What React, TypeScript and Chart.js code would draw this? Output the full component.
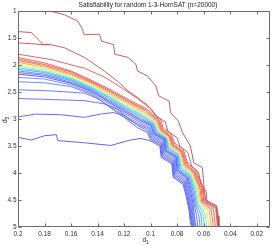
import { useEffect, useRef } from 'react';
import { Chart, registerables } from 'chart.js';

Chart.register(...registerables);

const titleText = 'Satisfiability for random 1-3-HornSAT (n=20000)';
const xTicks = [0.2, 0.18, 0.16, 0.14, 0.12, 0.1, 0.08, 0.06, 0.04, 0.02];
const xTickLabels = ['0.2', '0.18', '0.16', '0.14', '0.12', '0.1', '0.08', '0.06', '0.04', '0.02'];
const yTicks = [1, 1.5, 2, 2.5, 3, 3.5, 4, 4.5, 5];
const yTickLabels = ['1', '1.5', '2', '2.5', '3', '3.5', '4', '4.5', '5'];

type Pt = [number, number];

// transition band contours (blue side -> red side), [d1, d3]
const bandW00: Pt[] = [[0.2,2.17],[0.18,2.22],[0.16,2.34],[0.145,2.49],[0.132,2.68],[0.12,2.86],[0.108,3.03],[0.1,3.12],[0.0975,3.28],[0.09,3.38],[0.089,3.59],[0.081,3.71],[0.08,3.96],[0.0725,4.09],[0.07,4.33],[0.068,4.58],[0.067,4.8],[0.066,5]];
const bandW10: Pt[] = [[0.2,2.14],[0.18,2.19],[0.16,2.32],[0.145,2.47],[0.1318,2.66],[0.1196,2.84],[0.1075,3.01],[0.0994,3.11],[0.0969,3.27],[0.0895,3.37],[0.0884,3.58],[0.0805,3.70],[0.0793,3.95],[0.0719,4.08],[0.0691,4.33],[0.0672,4.57],[0.0654,4.79],[0.0644,5]];
const bandW20: Pt[] = [[0.2,2.11],[0.18,2.17],[0.16,2.29],[0.145,2.45],[0.1316,2.64],[0.1192,2.82],[0.107,2.99],[0.0987,3.10],[0.0962,3.26],[0.089,3.37],[0.0877,3.57],[0.08,3.69],[0.0785,3.94],[0.0713,4.07],[0.0682,4.32],[0.0664,4.57],[0.0638,4.77],[0.0627,5]];
const bandW30: Pt[] = [[0.2,2.08],[0.18,2.14],[0.16,2.27],[0.145,2.43],[0.1314,2.61],[0.1188,2.80],[0.1065,2.96],[0.098,3.09],[0.0956,3.25],[0.0885,3.36],[0.087,3.55],[0.0795,3.67],[0.0778,3.92],[0.0707,4.05],[0.0673,4.32],[0.0656,4.56],[0.0622,4.76],[0.0611,5]];
const bandW40: Pt[] = [[0.2,2.05],[0.18,2.12],[0.16,2.25],[0.145,2.41],[0.1312,2.59],[0.1184,2.78],[0.106,2.94],[0.0974,3.08],[0.0949,3.24],[0.088,3.35],[0.0864,3.54],[0.079,3.66],[0.077,3.91],[0.0701,4.04],[0.0664,4.31],[0.0648,4.56],[0.0606,4.74],[0.0594,5]];
const bandW50: Pt[] = [[0.2,2.02],[0.18,2.09],[0.16,2.23],[0.145,2.39],[0.131,2.57],[0.118,2.76],[0.1055,2.92],[0.0968,3.07],[0.0943,3.24],[0.0875,3.35],[0.0858,3.53],[0.0785,3.65],[0.0763,3.90],[0.0695,4.03],[0.0655,4.31],[0.064,4.55],[0.059,4.73],[0.0578,5]];
const bandW60: Pt[] = [[0.2,1.98],[0.18,2.06],[0.16,2.20],[0.145,2.36],[0.1308,2.55],[0.1176,2.73],[0.105,2.90],[0.0961,3.06],[0.0936,3.23],[0.087,3.34],[0.0851,3.52],[0.078,3.64],[0.0755,3.89],[0.0689,4.02],[0.0646,4.30],[0.0632,4.54],[0.0574,4.72],[0.0561,5]];
const bandW70: Pt[] = [[0.2,1.95],[0.18,2.04],[0.16,2.18],[0.145,2.34],[0.1306,2.53],[0.1172,2.71],[0.1045,2.88],[0.0955,3.05],[0.093,3.22],[0.0865,3.33],[0.0845,3.51],[0.0775,3.63],[0.0748,3.88],[0.0683,4.01],[0.0637,4.30],[0.0624,4.54],[0.0558,4.70],[0.0545,5]];
const bandW80: Pt[] = [[0.2,1.92],[0.18,2.01],[0.16,2.16],[0.145,2.32],[0.1304,2.50],[0.1168,2.69],[0.104,2.85],[0.0948,3.04],[0.0923,3.21],[0.086,3.32],[0.0838,3.49],[0.077,3.61],[0.074,3.86],[0.0677,3.99],[0.0628,4.29],[0.0616,4.53],[0.0542,4.69],[0.0528,5]];
const bandW90: Pt[] = [[0.2,1.89],[0.18,1.99],[0.16,2.13],[0.145,2.30],[0.1302,2.48],[0.1164,2.67],[0.1035,2.83],[0.0942,3.03],[0.0917,3.20],[0.0855,3.32],[0.0832,3.48],[0.0765,3.60],[0.0733,3.85],[0.0671,3.98],[0.0619,4.29],[0.0608,4.53],[0.0526,4.67],[0.0512,5]];
const bandW100: Pt[] = [[0.2,1.86],[0.18,1.96],[0.16,2.11],[0.145,2.28],[0.13,2.46],[0.116,2.65],[0.103,2.81],[0.0935,3.02],[0.091,3.19],[0.085,3.31],[0.0825,3.47],[0.076,3.59],[0.0725,3.84],[0.0665,3.97],[0.061,4.28],[0.06,4.52],[0.051,4.66],[0.0495,5]];

// outer high-level (red) contours
const redT1: Pt[] = [[0.176,1.0],[0.165,1.07],[0.155,1.185],[0.152,1.31],[0.15,1.44],[0.1385,1.43],[0.137,1.56],[0.128,1.62],[0.127,1.8],[0.117,1.86],[0.111,1.99],[0.11,2.11],[0.1025,2.2],[0.096,2.39],[0.094,2.57],[0.086,2.67],[0.085,2.88],[0.079,3.04],[0.076,3.25],[0.07,3.5],[0.0675,3.81],[0.061,3.9],[0.0595,4.33],[0.0585,4.5],[0.0505,4.6],[0.049,4.8],[0.0485,5]];
const redT2: Pt[] = [[0.2,1.38],[0.19,1.4],[0.181,1.62],[0.176,1.62],[0.165,1.68],[0.15,1.86],[0.135,2.11],[0.125,2.3],[0.117,2.48],[0.11,2.6],[0.103,2.73],[0.099,2.83],[0.095,2.97],[0.089,3.05],[0.087,3.22],[0.08,3.35],[0.078,3.5],[0.072,3.62],[0.069,3.88],[0.064,3.98],[0.062,4.2],[0.058,4.35],[0.0575,4.55],[0.05,4.65],[0.0495,5]];
const redT3: Pt[] = [[0.2,1.59],[0.19,1.605],[0.181,1.625],[0.176,1.625]];
const redLa: Pt[] = [[0.2,1.8],[0.175,1.9],[0.15,2.06],[0.135,2.22],[0.122,2.42],[0.11,2.62],[0.101,2.79],[0.0965,2.93],[0.0925,3.0],[0.0905,3.17],[0.0845,3.28],[0.082,3.44],[0.0755,3.56],[0.072,3.82],[0.066,3.94],[0.0605,4.26],[0.0595,4.5],[0.0505,4.62],[0.049,5]];

// outer low-level (blue) contours
const blueL1: Pt[] = [[0.2,2.23],[0.18,2.26],[0.16,2.37],[0.145,2.52],[0.132,2.71],[0.12,2.89],[0.108,3.06],[0.1005,3.15],[0.098,3.3],[0.0905,3.4],[0.0895,3.61],[0.0815,3.73],[0.0805,3.98],[0.073,4.11],[0.0705,4.35],[0.0685,4.6],[0.0675,4.82],[0.0665,5]];
const blueL2: Pt[] = [[0.2,2.31],[0.18,2.33],[0.16,2.4],[0.145,2.54],[0.133,2.74],[0.121,2.92],[0.109,3.08],[0.101,3.17],[0.0985,3.32],[0.091,3.42],[0.09,3.63],[0.082,3.75],[0.081,4.0],[0.0735,4.13],[0.071,4.37],[0.069,4.62],[0.068,4.84],[0.067,5]];
const blueL3: Pt[] = [[0.2,2.46],[0.175,2.48],[0.15,2.52],[0.14,2.62],[0.132,2.76],[0.122,2.94],[0.11,3.1],[0.1015,3.19],[0.099,3.34],[0.0915,3.44],[0.0905,3.65],[0.0825,3.77],[0.0815,4.02],[0.074,4.15],[0.0715,4.39],[0.0695,4.64],[0.0685,4.86],[0.0675,5]];
const blueL4: Pt[] = [[0.2,2.62],[0.175,2.64],[0.15,2.66],[0.135,2.72],[0.125,2.82],[0.117,2.98],[0.109,3.13],[0.102,3.22],[0.0995,3.36],[0.092,3.46],[0.091,3.67],[0.083,3.79],[0.082,4.04],[0.0745,4.17],[0.072,4.41],[0.07,4.66],[0.069,4.88],[0.068,5]];
const blueL5: Pt[] = [[0.2,2.96],[0.187,2.91],[0.168,2.92],[0.15,2.97],[0.138,2.91],[0.128,2.88],[0.121,2.93],[0.118,3.01],[0.11,3.16],[0.1025,3.25],[0.1,3.38],[0.0925,3.48],[0.0915,3.69],[0.0835,3.81],[0.0825,4.06],[0.075,4.19],[0.0725,4.43],[0.0705,4.68],[0.0695,4.9],[0.0685,5]];
const blueL6: Pt[] = [[0.2,3.34],[0.19,3.39],[0.18,3.31],[0.171,3.29],[0.17,3.4],[0.15,3.44],[0.13,3.49],[0.117,3.4],[0.108,3.36],[0.1005,3.4],[0.093,3.5],[0.092,3.71],[0.084,3.83],[0.083,4.08],[0.0755,4.21],[0.073,4.45],[0.071,4.7],[0.07,4.92],[0.069,5]];

const contourLines: { pts: Pt[]; color: string }[] = [
  { pts: blueL6, color: '#4848e8' },
  { pts: blueL5, color: '#4a52ee' },
  { pts: blueL4, color: '#5060f2' },
  { pts: blueL3, color: '#5468f6' },
  { pts: blueL2, color: '#5a72fa' },
  { pts: blueL1, color: '#5c7cff' },
  { pts: bandW00, color: '#4040ff' },
  { pts: bandW10, color: '#4a60ff' },
  { pts: bandW20, color: '#4a7cff' },
  { pts: bandW30, color: '#4898ff' },
  { pts: bandW40, color: '#38ccff' },
  { pts: bandW50, color: '#60ffb0' },
  { pts: bandW60, color: '#e4f030' },
  { pts: bandW70, color: '#ffa020' },
  { pts: bandW80, color: '#ff5a30' },
  { pts: bandW90, color: '#f24444' },
  { pts: bandW100, color: '#e45050' },
  { pts: redLa, color: '#de4a4a' },
  { pts: redT3, color: '#c84646' },
  { pts: redT2, color: '#c04848' },
  { pts: redT1, color: '#b04545' },
];

const FONT = '"Liberation Sans", Arial, sans-serif';

const decor = {
  id: 'decor',
  afterDraw(chart: any) {
    const { ctx, chartArea: a, scales } = chart;
    const xs = scales.x;
    const ys = scales.y;
    ctx.save();
    ctx.strokeStyle = '#6b6b6b';
    ctx.lineWidth = 1;
    const L = Math.round(a.left) + 0.5;
    const R = Math.round(a.right) - 0.5;
    const T = Math.round(a.top) + 0.5;
    const B = Math.round(a.bottom) - 0.5;
    ctx.beginPath();
    ctx.moveTo(L, T); ctx.lineTo(R, T); ctx.lineTo(R, B); ctx.lineTo(L, B); ctx.closePath();
    ctx.stroke();
    ctx.beginPath();
    for (const v of xTicks) {
      const px = Math.round(xs.getPixelForValue(v)) + 0.5;
      ctx.moveTo(px, B); ctx.lineTo(px, B - 3);
      ctx.moveTo(px, T); ctx.lineTo(px, T + 3);
    }
    for (const v of yTicks) {
      const py = Math.round(ys.getPixelForValue(v)) + 0.5;
      ctx.moveTo(L, py); ctx.lineTo(L + 3, py);
      ctx.moveTo(R, py); ctx.lineTo(R - 3, py);
    }
    ctx.stroke();

    ctx.fillStyle = '#222';
    ctx.font = `6.5px ${FONT}`;
    ctx.textAlign = 'center';
    ctx.textBaseline = 'middle';
    ctx.fillText(titleText, 148, 5.5);

    // x label d1
    ctx.textAlign = 'left';
    ctx.textBaseline = 'alphabetic';
    ctx.font = `6.5px ${FONT}`;
    const dw = ctx.measureText('d').width;
    ctx.fillText('d', 142.5, 242);
    ctx.font = `5px ${FONT}`;
    ctx.fillText('1', 142.5 + dw, 244);

    // y label d3
    ctx.translate(7, 123);
    ctx.rotate(-Math.PI / 2);
    ctx.font = `6.5px ${FONT}`;
    ctx.fillText('d', 0, 0);
    ctx.font = `5px ${FONT}`;
    ctx.fillText('3', dw, 2);
    ctx.restore();
  },
};

export default function App() {
  const ref = useRef<HTMLCanvasElement>(null);
  useEffect(() => {
    const chart = new Chart(ref.current as HTMLCanvasElement, {
      type: 'scatter',
      data: {
        datasets: contourLines.map((c) => ({
          data: c.pts.map(([x, y]) => ({ x, y })),
          showLine: true,
          borderColor: c.color,
          backgroundColor: c.color,
          borderWidth: 0.85,
          pointRadius: 0,
          pointHoverRadius: 0,
          tension: 0,
          fill: false,
        })),
      },
      options: {
        animation: false,
        responsive: false,
        events: [],
        layout: { padding: { left: 0, top: 11, right: 3, bottom: 0 } },
        plugins: { legend: { display: false }, tooltip: { enabled: false }, title: { display: false } },
        scales: {
          x: {
            type: 'linear',
            reverse: true,
            min: 0.01,
            max: 0.2,
            grid: { display: false, drawTicks: false },
            border: { display: false },
            afterBuildTicks: (s: any) => { s.ticks = xTicks.map((v) => ({ value: v })); },
            afterFit: (s: any) => { s.height = 18; },
            ticks: {
              autoSkip: false,
              maxRotation: 0,
              padding: 3,
              color: '#333',
              font: { size: 6.5, family: FONT },
              callback: (_v: any, i: number) => xTickLabels[i],
            },
          },
          y: {
            type: 'linear',
            reverse: true,
            min: 1,
            max: 5,
            grid: { display: false, drawTicks: false },
            border: { display: false },
            afterBuildTicks: (s: any) => { s.ticks = yTicks.map((v) => ({ value: v })); },
            afterFit: (s: any) => { s.width = 18; },
            ticks: {
              autoSkip: false,
              padding: 1.5,
              color: '#333',
              font: { size: 6.5, family: FONT },
              callback: (_v: any, i: number) => yTickLabels[i],
            },
          },
        },
      },
      plugins: [decor],
    } as any);
    return () => chart.destroy();
  }, []);
  return (
    <div style={{ position: 'fixed', left: 0, top: 0, width: 273, height: 245, background: '#fff' }}>
      <canvas ref={ref} width={273} height={245} style={{ display: 'block', width: 273, height: 245 }} />
    </div>
  );
}
